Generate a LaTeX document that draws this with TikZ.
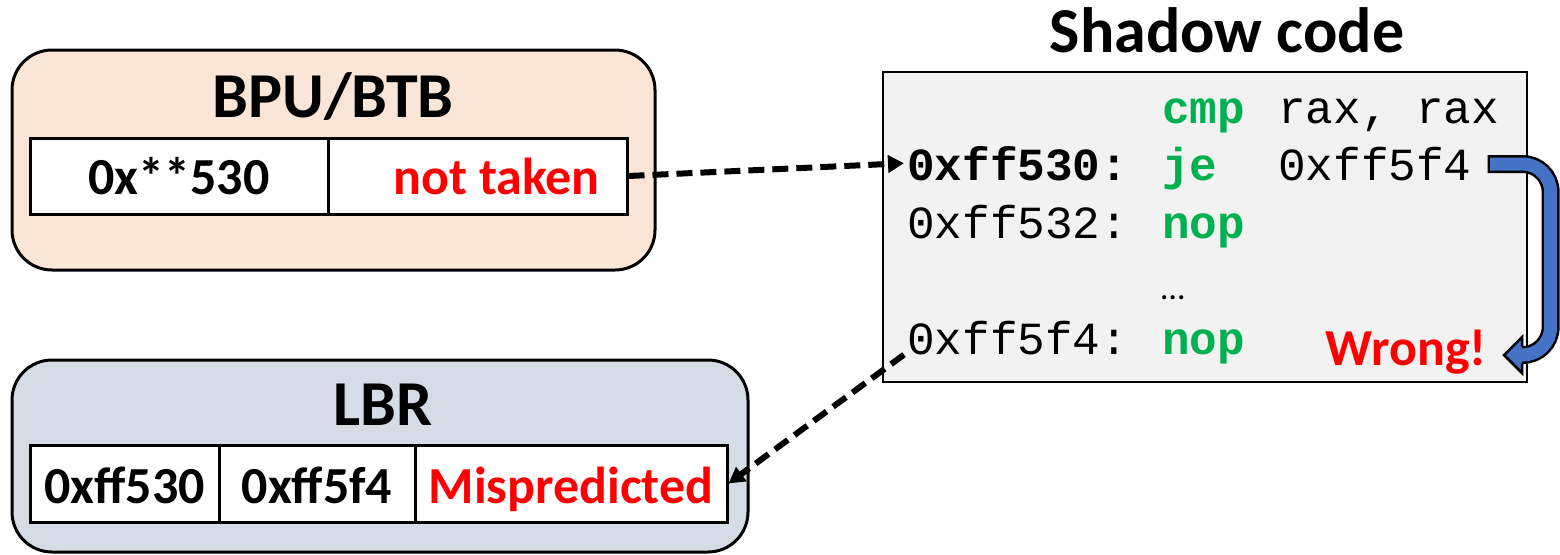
\documentclass[tikz,border=0pt]{standalone}
\usepackage{fontspec}
\setmainfont{Carlito}
\newfontfamily\codefont{Liberation Mono}
\usetikzlibrary{arrows.meta}
\definecolor{peach}{HTML}{FBE5D6}
\definecolor{lbrbg}{HTML}{D6DCE5}
\definecolor{codebg}{HTML}{F2F2F2}
\definecolor{codegreen}{HTML}{00B050}
\definecolor{blueA}{HTML}{4472C4}
\tikzset{
  panel/.style={draw, line width=3pt, rounded corners=40pt, inner sep=0pt},
  cell/.style={draw, line width=3pt, fill=white, inner sep=0pt},
  ttl/.style={font=\bfseries\fontsize{64}{64}\selectfont, inner sep=0pt, anchor=base},
  celltxt/.style={font=\bfseries\fontsize{52}{52}\selectfont, inner sep=0pt, anchor=base},
  code/.style={font=\codefont\fontsize{46}{46}\selectfont, inner sep=0pt, anchor=base west},
  kw/.style={code, font=\codefont\bfseries\fontsize{46}{46}\selectfont, text=codegreen},
  dasharrow/.style={line width=6pt, dash pattern=on 16pt off 8pt, -{Triangle[length=16pt,width=17pt]}}
}
\begin{document}
\begin{tikzpicture}[x=1pt,y=-1pt]
\useasboundingbox (0,0) rectangle (1560,554);

% BPU/BTB
\node[panel, fill=peach, minimum width=643pt, minimum height=220pt] (bpu) at (333.5,160) {};
\node[ttl] (bputitle) at (333,117) {BPU/BTB};
\node[cell, minimum width=298pt, minimum height=76pt] (c1) at (179,176) {};
\node[cell, minimum width=299pt, minimum height=76pt] (c2) at (477.5,176) {};
\node[celltxt] (t1) at (179,194) {0x**530};
\node[celltxt, anchor=base east, text=red] (t2) at (600,194) {not taken};

% LBR
\node[panel, fill=lbrbg, minimum width=736pt, minimum height=192pt] (lbr) at (380,456) {};
\node[ttl] (lbrtitle) at (383,425) {LBR};
\node[cell, minimum width=189pt, minimum height=77pt] (l1) at (124.5,483.5) {};
\node[cell, minimum width=196pt, minimum height=77pt] (l2) at (317,483.5) {};
\node[cell, minimum width=312pt, minimum height=77pt] (l3) at (571,483.5) {};
\node[celltxt] (lt1) at (124.5,503) {0xff530};
\node[celltxt] (lt2) at (317,503) {0xff5f4};
\node[celltxt, text=red] (lt3) at (571,503) {Mispredicted};

% Shadow code
\node[ttl] (sctitle) at (1227,52) {Shadow code};
\node[draw, line width=2.5pt, fill=codebg, minimum width=644pt, minimum height=310pt, inner sep=0pt] (codebox) at (1205,227) {};
\node[kw] (k1) at (1162,123) {cmp};
\node[code] (o1) at (1278,123) {rax, rax};
\node[code, font=\codefont\bfseries\fontsize{46}{46}\selectfont] (a2) at (907,180) {0xff530:};
\node[kw] (k2) at (1162,180) {je};
\node[code] (o2) at (1278,180) {0xff5f4};
\node[code] (a3) at (907,238) {0xff532:};
\node[kw] (k3) at (1162,238) {nop};
\node[font=\fontsize{34}{34}\selectfont, inner sep=0pt, anchor=base west] (dots) at (1161,299) {…};
\node[code] (a4) at (907,354) {0xff5f4:};
\node[kw] (k4) at (1162,354) {nop};
\node[celltxt, anchor=base east, text=red] (wrong) at (1487,365) {Wrong!};

% dashed connectors
\draw[dasharrow] (c2.east) -- ([xshift=-3pt]a2.west);
\draw[dasharrow] ([xshift=-3pt]a4.south west) -- (l3.east);

% blue U-arrow
\coordinate (bs) at ([xshift=16pt,yshift=16pt]o2.base east);
\draw[line width=18pt, black, rounded corners=28pt] (bs) -- ++(63,0) |- (1521,355);
\draw[line width=13pt, blueA, rounded corners=28pt] ([xshift=2.5pt]bs) -- ++(60.5,0) |- (1522,355);
\fill[blueA] (1522,337) -- (1504,355) -- (1522,373) -- cycle;
\draw[line width=2.5pt, line join=miter] (1522,346.5) -- (1522,337) -- (1504,355) -- (1522,373) -- (1522,363.5);
\end{tikzpicture}
\end{document}
